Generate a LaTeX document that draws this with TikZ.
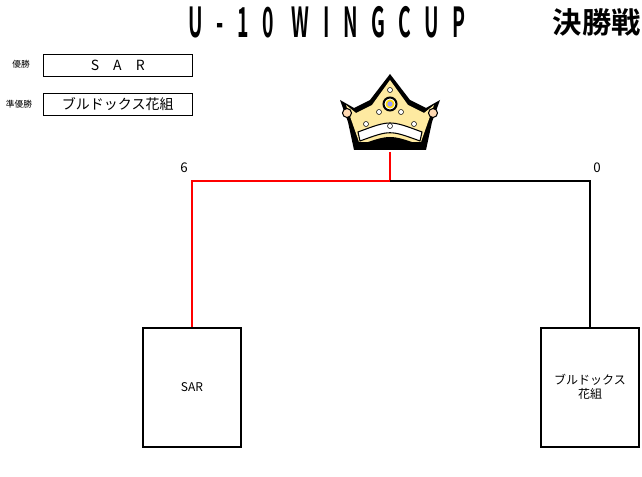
\documentclass[tikz,border=0pt]{standalone}
\usepackage{fontspec}
\setmainfont{Noto Sans CJK JP}
\newfontfamily\titlefont[LetterSpace=70]{Noto Sans CJK JP Bold}
\newfontfamily\jpbold{Noto Sans CJK JP Bold}
\begin{document}
\begin{tikzpicture}[x=0.75pt,y=-0.75pt,
  lbl/.style={font=\fontsize{6.5}{7}\selectfont,inner sep=0},
  res/.style={draw,thin,minimum width=111.75pt,minimum height=16.5pt,inner sep=0,font=\fontsize{10.5}{12}\selectfont},
  team/.style={draw,line width=1.5pt,minimum width=74pt,minimum height=89pt,inner sep=0,align=center,font=\fontsize{9}{10.5}\selectfont},
  red/.style={draw=red,line width=1pt},
  blk/.style={draw=black,line width=1pt}]
\useasboundingbox (0,0) rectangle (642,477);
\node[inner sep=0,anchor=west] (title) at (188,22) {\scalebox{0.47}[1]{\titlefont\fontsize{31}{32}\selectfont U-10 WINGCUP}};
\node[inner sep=0,anchor=east] (title2) at (641,22) {\jpbold\fontsize{22}{24}\selectfont 決勝戦};
\node[lbl] (l1) at (21,64) {優勝};
\node[lbl] (l2) at (19,104) {準優勝};
\node[res,anchor=north west] (r1) at (43,54) {S\hspace{1em}A\hspace{1em}R};
\node[res,anchor=north west] (r2) at (43,93) {ブルドックス花組};
% crown
\begin{scope}[shift={(390,114)}]
\fill[black] (-50,-14) -- (-36,-6) -- (-20,-14) -- (0,-40) -- (20,-14) -- (36,-6) -- (50,-14) -- (42,8) -- (36,36) -- (-36,36) -- (-42,8) -- cycle;
\fill[yellow!60!orange!35!white] (-44,-9) -- (-34,-1) -- (-18,-9) -- (0,-34) -- (18,-9) -- (34,-1) -- (44,-9) -- (38,8) -- (31,28) -- (-31,28) -- (-38,8) -- cycle;
\fill[white,draw=black,thick] (-32,18) .. controls (0,6) .. (32,18) -- (30,27) .. controls (0,16) .. (-30,27) -- cycle;
\fill[black] (-33,32) .. controls (0,20) .. (33,32) -- (36,36) -- (-36,36) -- cycle;
\foreach \p in {(-43,-1),(43,-1)} \filldraw[fill=orange!30,draw=black,thick] \p circle (4.5);
\foreach \p in {(0,-24),(-11,-2),(11,-2),(-24,10),(24,10),(0,12)} \filldraw[fill=white,draw=black] \p circle (2.5);
\filldraw[fill=white,draw=black,line width=1.5pt] (0,-10) circle (6.5);
\fill[yellow!80!orange] (0,-10) circle (4.5);
\fill[blue!40] (0,-10) circle (2.7);
\end{scope}
\coordinate (top) at (390,152);
\coordinate (mid) at (390,181);
\coordinate (lc) at (192,181);
\coordinate (rc) at (590,181);
\node[team,anchor=north] (t1) at (192,327) {SAR};
\node[team,anchor=north] (t2) at (590,327) {ブルドックス\\花組};
\draw[red] (top) -- (mid) -- (lc) -- (t1.north);
\draw[blk] (mid) -- (rc) -- (t2.north);
\node[font=\fontsize{10}{11}\selectfont] (s1) at (184,168) {6};
\node[font=\fontsize{10}{11}\selectfont] (s2) at (597,168) {0};
\end{tikzpicture}
\end{document}
